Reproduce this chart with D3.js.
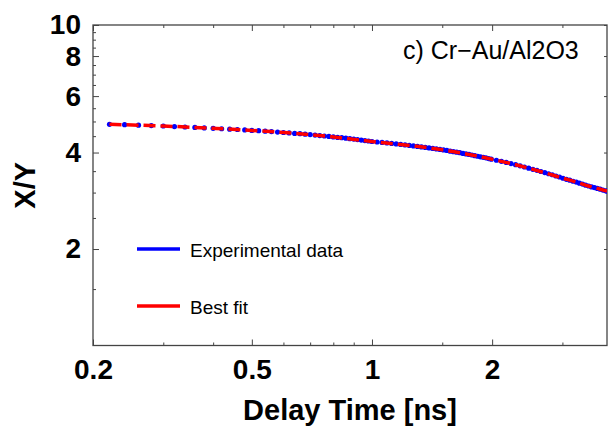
<!DOCTYPE html>
<html>
<head>
<meta charset="utf-8">
<script src="https://cdn.jsdelivr.net/npm/d3@7"></script>
<style>
  body { margin: 0; background: #fff; }
  text { font-family: "Liberation Sans", Arial, Helvetica, sans-serif; }
</style>
</head>
<body>
<div id="chart"></div>
<script>
// experimental data (delay time in ns, X/Y ratio)
const expX = [0.22, 0.24, 0.26, 0.28, 0.30, 0.32, 0.34, 0.36, 0.38, 0.40,
  0.42, 0.44, 0.46, 0.48, 0.50, 0.52, 0.54, 0.56, 0.58, 0.60,
  0.62, 0.64, 0.66, 0.68, 0.70, 0.72, 0.74, 0.76, 0.78, 0.80,
  0.82, 0.84, 0.86, 0.88, 0.90, 0.92, 0.94, 0.96, 0.98, 1.00,
  1.03, 1.06, 1.09, 1.12, 1.15, 1.18, 1.21, 1.24, 1.27, 1.30,
  1.33, 1.36, 1.39, 1.42, 1.45, 1.48, 1.51, 1.54, 1.57, 1.60,
  1.63, 1.66, 1.69, 1.72, 1.75, 1.78, 1.81, 1.84, 1.87, 1.90,
  1.93, 1.96, 1.99, 2.05, 2.11, 2.17, 2.23, 2.29, 2.35, 2.41,
  2.47, 2.53, 2.59, 2.65, 2.71, 2.77, 2.83, 2.89, 2.95, 3.01,
  3.07, 3.13, 3.19, 3.25, 3.31, 3.37, 3.43, 3.49, 3.55, 3.61,
  3.67, 3.73, 3.79, 3.85, 3.88];
const expY = [4.90, 4.885, 4.87, 4.855, 4.84, 4.82, 4.805, 4.79, 4.775, 4.76,
  4.745, 4.73, 4.72, 4.705, 4.69, 4.68, 4.665, 4.65, 4.635, 4.62,
  4.605, 4.59, 4.58, 4.565, 4.55, 4.535, 4.52, 4.505, 4.49, 4.475,
  4.46, 4.45, 4.435, 4.42, 4.405, 4.39, 4.375, 4.36, 4.345, 4.33,
  4.315, 4.30, 4.285, 4.27, 4.255, 4.24, 4.225, 4.21, 4.195, 4.18,
  4.165, 4.15, 4.135, 4.12, 4.105, 4.09, 4.075, 4.06, 4.04, 4.025,
  4.01, 3.995, 3.975, 3.96, 3.945, 3.93, 3.91, 3.895, 3.88, 3.865,
  3.85, 3.83, 3.815, 3.785, 3.755, 3.725, 3.695, 3.665, 3.635, 3.605,
  3.575, 3.545, 3.52, 3.49, 3.465, 3.435, 3.41, 3.38, 3.355, 3.325,
  3.30, 3.28, 3.255, 3.235, 3.21, 3.19, 3.165, 3.145, 3.125, 3.11,
  3.09, 3.075, 3.055, 3.04, 3.03];

// best fit curve
const fitX = [0.22, 0.3, 0.4, 0.5, 0.6, 0.7, 0.8, 1.0, 1.25, 1.5, 1.75,
  2.0, 2.25, 2.5, 2.75, 3.0, 3.25, 3.5, 3.7, 3.88];
const fitY = [4.90, 4.84, 4.76, 4.69, 4.62, 4.55, 4.475, 4.33, 4.205, 4.08, 3.945,
  3.81, 3.685, 3.56, 3.44, 3.33, 3.235, 3.14, 3.085, 3.03];

const xMajor = [0.2, 0.5, 1, 2];
const xMinor = [0.3, 0.4, 0.6, 0.7, 0.8, 0.9, 1.5, 3];
const yMajor = [2, 4, 6, 8, 10];
const yMinor = [1.5, 2.5, 3, 3.5, 4.5, 5, 5.5, 6.5, 7, 7.5, 8.5, 9, 9.5];

const seriesNames = ['Experimental data', 'Best fit'];
const seriesColors = ['#0000ff', '#ff0000'];

const width = 608;
const height = 430;
const plotLeft = 93;
const plotRight = 607;
const plotTop = 25;
const plotBottom = 345.5;

const x = d3.scaleLog().domain([0.2, 3.88]).range([plotLeft, plotRight]);
const y = d3.scaleLog().domain([1, 10]).range([plotBottom, plotTop]);

const svg = d3.select('#chart')
  .append('svg')
  .attr('width', width)
  .attr('height', height);

svg.append('defs').append('clipPath')
  .attr('id', 'plot')
  .append('rect')
  .attr('x', plotLeft)
  .attr('y', plotTop)
  .attr('width', plotRight - plotLeft)
  .attr('height', plotBottom - plotTop);

const frameColor = '#444';

const styleAxis = (g) => {
  g.select('.domain').remove();
  g.selectAll('.tick line').attr('stroke', frameColor).attr('stroke-width', 1);
  g.selectAll('.tick text')
    .attr('fill', '#000')
    .style('font-size', '28px')
    .style('font-weight', 'bold');
};

// bottom axis
svg.append('g')
  .attr('transform', `translate(0 ${plotBottom})`)
  .call(d3.axisBottom(x).tickValues(xMajor).tickSize(-6).tickPadding(14)
    .tickFormat(d3.format('')))
  .call(styleAxis);
svg.append('g')
  .attr('transform', `translate(0 ${plotBottom})`)
  .call(d3.axisBottom(x).tickValues(xMinor).tickSize(-3).tickFormat(''))
  .call(styleAxis);

// top axis
svg.append('g')
  .attr('transform', `translate(0 ${plotTop})`)
  .call(d3.axisTop(x).tickValues(xMajor).tickSize(-6).tickFormat(''))
  .call(styleAxis);
svg.append('g')
  .attr('transform', `translate(0 ${plotTop})`)
  .call(d3.axisTop(x).tickValues(xMinor).tickSize(-3).tickFormat(''))
  .call(styleAxis);

// left axis
svg.append('g')
  .attr('transform', `translate(${plotLeft} 0)`)
  .call(d3.axisLeft(y).tickValues(yMajor).tickSize(-6).tickPadding(12)
    .tickFormat(d3.format('')))
  .call(styleAxis);
svg.append('g')
  .attr('transform', `translate(${plotLeft} 0)`)
  .call(d3.axisLeft(y).tickValues(yMinor).tickSize(-3).tickFormat(''))
  .call(styleAxis);

// right axis
svg.append('g')
  .attr('transform', `translate(${plotRight} 0)`)
  .call(d3.axisRight(y).tickValues(yMajor).tickSize(-3).tickFormat(''))
  .call(styleAxis);

// frame
svg.append('rect')
  .attr('x', plotLeft)
  .attr('y', plotTop)
  .attr('width', plotRight - plotLeft)
  .attr('height', plotBottom - plotTop)
  .attr('fill', 'none')
  .attr('stroke', frameColor)
  .attr('stroke-width', 1.3);

const plot = svg.append('g').attr('clip-path', 'url(#plot)');

// experimental points
plot.selectAll('circle')
  .data(expX.map((d, i) => [d, expY[i]]))
  .enter()
  .append('circle')
  .attr('cx', (d) => x(d[0]))
  .attr('cy', (d) => y(d[1]))
  .attr('r', 2.6)
  .attr('fill', seriesColors[0]);

// fit line
const line = d3.line()
  .x((d) => x(d[0]))
  .y((d) => y(d[1]))
  .curve(d3.curveMonotoneX);

plot.append('path')
  .datum(fitX.map((d, i) => [d, fitY[i]]))
  .attr('d', line)
  .attr('fill', 'none')
  .attr('stroke', seriesColors[1])
  .attr('stroke-width', 3.5)
  .attr('stroke-dasharray', '12 5');

// annotation
svg.append('text')
  .attr('x', 403)
  .attr('y', 59)
  .style('font-size', '25px')
  .text('c) Cr\u2212Au/Al2O3');

// legend
const legend = svg.append('g');
seriesNames.forEach((name, i) => {
  const ly = 249 + i * 57;
  legend.append('line')
    .attr('x1', 137)
    .attr('x2', 180)
    .attr('y1', ly)
    .attr('y2', ly)
    .attr('stroke', seriesColors[i])
    .attr('stroke-width', 3.5);
  legend.append('text')
    .attr('x', 190)
    .attr('y', ly + 8)
    .style('font-size', '19px')
    .text(name);
});

// axis titles
svg.append('text')
  .attr('x', (plotLeft + plotRight) / 2)
  .attr('y', 420)
  .attr('text-anchor', 'middle')
  .style('font-size', '29px')
  .style('font-weight', 'bold')
  .text('Delay Time [ns]');

svg.append('text')
  .attr('transform', `translate(35 ${(plotTop + plotBottom) / 2}) rotate(-90)`)
  .attr('text-anchor', 'middle')
  .style('font-size', '29px')
  .style('font-weight', 'bold')
  .text('X/Y');
</script>
</body>
</html>
